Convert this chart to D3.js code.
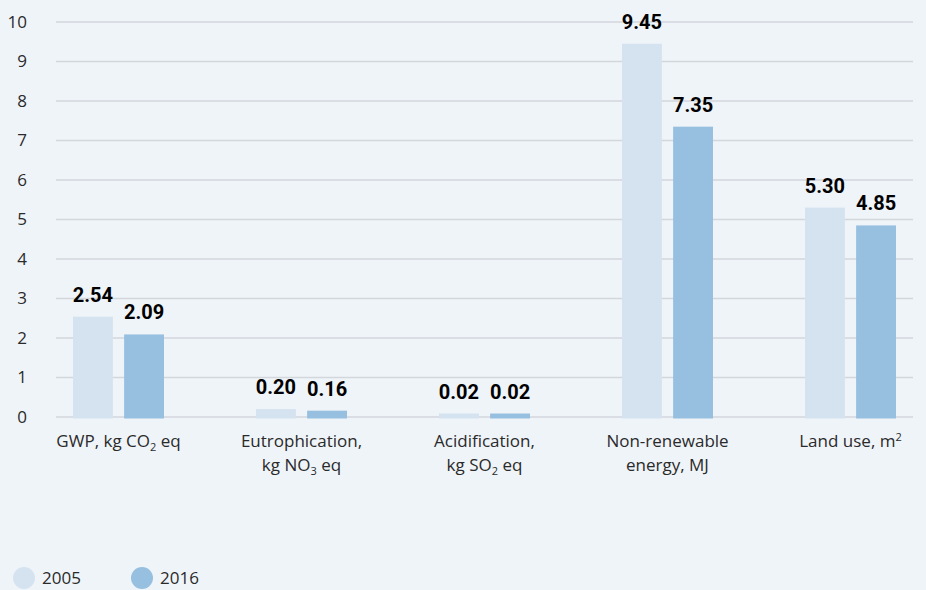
<!DOCTYPE html>
<html>
<head>
<meta charset="utf-8">
<script src="https://cdn.jsdelivr.net/npm/d3@7"></script>
<style>
	body { margin: 0; background: #eff4f9; }
	svg { display: block; font-family: "Open Sans", "Noto Sans", sans-serif; }
</style>
</head>
<body>
<div id="chart"></div>
<script>
// categories as lines of text; each line is a list of [text, mode] pieces
const categories = ['GWP', 'Eutro', 'Acid', 'Energy', 'Land'];
const categoryLabels = [
	[[['GWP, kg CO', ''], ['2', 'sub'], [' eq', '']]],
	[[['Eutrophication,', '']], [['kg NO', ''], ['3', 'sub'], [' eq', '']]],
	[[['Acidification,', '']], [['kg SO', ''], ['2', 'sub'], [' eq', '']]],
	[[['Non-renewable', '']], [['energy, MJ', '']]],
	[[['Land use, m', ''], ['2', 'sup']]]
];
const years = ['2005', '2016'];
const values2005 = [2.54, 0.20, 0.02, 9.45, 5.30];
const values2016 = [2.09, 0.16, 0.02, 7.35, 4.85];
const yTicks = [0, 1, 2, 3, 4, 5, 6, 7, 8, 9, 10];
const colors = ['#d5e3f0', '#97bfe0'];

const width = 926, height = 590;
const svg = d3.select('#chart').append('svg')
	.attr('width', width)
	.attr('height', height);

svg.append('rect').attr('width', width).attr('height', height).attr('fill', '#eff4f9');

const yScale = d3.scaleLinear().domain([0, 10]).range([417, 22]);
const xScale = d3.scaleBand().domain(categories).range([27, 942]);
const xSub = d3.scaleBand().domain(years).range([-45.5, 45.5]).paddingInner(0.22);

// gridlines
svg.append('g')
	.selectAll('line')
	.data(yTicks)
	.join('line')
	.attr('x1', 56).attr('x2', 913)
	.attr('y1', d => yScale(d)).attr('y2', d => yScale(d))
	.attr('stroke', '#d3d7dc')
	.attr('stroke-width', 1.5);

// y axis labels
const yAxis = d3.axisLeft(yScale).tickValues(yTicks).tickSize(0).tickPadding(0);
const yAxisGroup = svg.append('g')
	.attr('transform', 'translate(27,0)')
	.call(yAxis);
yAxisGroup.select('.domain').remove();
yAxisGroup.selectAll('text')
	.attr('fill', '#2a2a2a')
	.style('font-size', '17px')
	.style('font-family', '"Open Sans", sans-serif');

// bars
const series = [values2005, values2016];
series.forEach((vals, si) => {
	const g = svg.append('g');
	const data = categories.map((c, i) => ({ cat: c, v: vals[i] }));
	const barX = d => xScale(d.cat) + xScale.bandwidth() / 2 + xSub(years[si]);
	const barTop = d => Math.min(yScale(d.v), yScale(0) - 3.5);

	g.selectAll('rect')
		.data(data)
		.join('rect')
		.attr('x', barX)
		.attr('width', xSub.bandwidth())
		.attr('y', barTop)
		.attr('height', d => yScale(0) + 1.5 - barTop(d))
		.attr('fill', colors[si]);

	g.selectAll('text')
		.data(data)
		.join('text')
		.attr('x', d => barX(d) + xSub.bandwidth() / 2)
		.attr('y', d => barTop(d) - 15)
		.attr('text-anchor', 'middle')
		.attr('fill', '#000')
		.style('font-family', 'Roboto, sans-serif')
		.style('font-size', '20px')
		.style('font-weight', 'bold')
		.text(d => d.v.toFixed(2));
});

// category labels
categories.forEach((c, i) => {
	const cx = xScale(c) + xScale.bandwidth() / 2;
	categoryLabels[i].forEach((line, li) => {
		const t = svg.append('text')
			.attr('x', cx)
			.attr('y', 447 + li * 24)
			.attr('text-anchor', 'middle')
			.attr('fill', '#2a2a2a')
			.style('font-size', '17px');
		line.forEach(([txt, mode]) => {
			const ts = t.append('tspan').text(txt);
			if (mode === 'sub') ts.attr('dy', 4).style('font-size', '11px');
			else if (mode === 'sup') ts.attr('dy', -6).style('font-size', '11px');
			else if (ts.node().previousSibling && ts.node().previousSibling.getAttribute('dy')) ts.attr('dy', -4);
		});
	});
});

// legend
const legend = svg.append('g').attr('transform', 'translate(0,578)');
const legendX = [24, 142];
years.forEach((y, i) => {
	legend.append('circle')
		.attr('cx', legendX[i]).attr('cy', 0).attr('r', 11)
		.attr('fill', colors[i]);
	legend.append('text')
		.attr('x', legendX[i] + 18).attr('y', 6)
		.attr('fill', '#2a2a2a')
		.style('font-size', '17px')
		.text(y);
});
</script>
</body>
</html>
